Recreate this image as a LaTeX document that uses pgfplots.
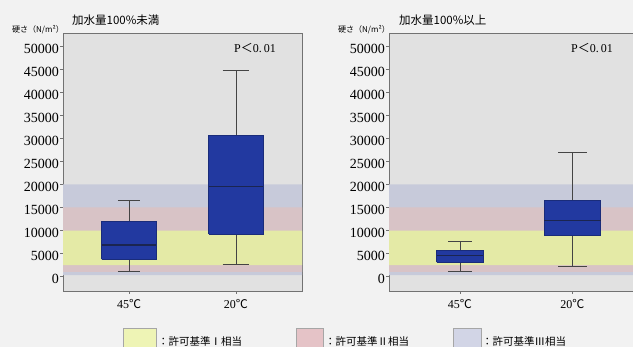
\documentclass[border=0pt]{standalone}
\usepackage{fontspec}
\setmainfont{Liberation Serif}
\newfontfamily\jp{Noto Sans CJK JP}
\usepackage{pgfplots}
\pgfplotsset{compat=1.18}

\definecolor{pagebg}{HTML}{F2F2F2}
\definecolor{plotbg}{HTML}{E1E1E1}
\definecolor{bandI}{HTML}{E4EAA6}
\definecolor{bandII}{HTML}{D8C3C6}
\definecolor{bandIII}{HTML}{C7CADA}
\definecolor{boxfill}{HTML}{2239A0}
\definecolor{boxedge}{HTML}{1A2C7A}
\definecolor{medline}{HTML}{1B2550}
\definecolor{whisk}{HTML}{444444}
\definecolor{axisgray}{HTML}{727272}
\definecolor{legI}{HTML}{EEF4B5}
\definecolor{legII}{HTML}{E5C3C7}
\definecolor{legIII}{HTML}{D2D5E6}

\pgfplotsset{
  hardness/.style={
    scale only axis, height=258pt, anchor=south west,
    ymin=-3150, ymax=52930,
    ytick={0,5000,10000,15000,20000,25000,30000,35000,40000,45000,50000},
    scaled y ticks=false,
    yticklabel style={font=\fontsize{14}{14}\selectfont,
      /pgf/number format/1000 sep={},
      /pgf/number format/assume math mode=true,
      inner xsep=1pt, yshift=-2pt},
    xtick={0,1}, xticklabels={45{\jp ℃},20{\jp ℃}},
    xticklabel style={font=\fontsize{12}{12}\selectfont, yshift=-2pt},
    tick pos=left, tick align=outside, major tick length=3pt,
    tick style={axisgray, line width=0.6pt},
    axis line style={axisgray, line width=0.8pt},
    axis background/.style={fill=plotbg},
  },
  stdband/.style={draw=none, fill=#1, forget plot},
  boxbody/.style={draw=boxedge, fill=boxfill, line width=0.6pt, mark=none},
  whiskline/.style={draw=whisk, line width=0.7pt, mark=none},
  medianline/.style={draw=medline, line width=1.1pt, mark=none},
}

% permitted-standard ranges (N/m^2): III 300-20000, II 1000-15000, I 2500-10000
\newcommand{\standardbands}{%
  \addplot[stdband=bandIII] coordinates {(-1,300) (2,300) (2,20000) (-1,20000) (-1,300)};
  \addplot[stdband=bandII] coordinates {(-1,1000) (2,1000) (2,15000) (-1,15000) (-1,1000)};
  \addplot[stdband=bandI] coordinates {(-1,2500) (2,2500) (2,10000) (-1,10000) (-1,2500)};
}

\begin{document}
\begin{tikzpicture}
\path[use as bounding box, clip] (0,0) rectangle (633pt,-347pt);
\fill[pagebg] (0,0) rectangle (633pt,-347pt);

% water content below 100%
\begin{axis}[hardness, at={(63pt,-291pt)}, width=239pt,
  xmin=-0.617, xmax=1.617]
  \standardbands
  % 45 C: whiskers 1040 / 16630, quartiles 3740 / 11910, median 6850
  \addplot[whiskline] coordinates {(0,1040) (0,16630)};
  \addplot[whiskline] coordinates {(-0.105,1040) (0.105,1040)};
  \addplot[whiskline] coordinates {(-0.105,16630) (0.105,16630)};
  \addplot[boxbody] coordinates {(-0.255,3740) (0.255,3740) (0.255,11910) (-0.255,11910) (-0.255,3740)};
  \addplot[medianline] coordinates {(-0.255,6850) (0.255,6850)};
  % 20 C: whiskers 2720 / 44830, quartiles 9240 / 30600, median 19520
  \addplot[whiskline] coordinates {(1,2720) (1,44830)};
  \addplot[whiskline] coordinates {(0.875,2720) (1.125,2720)};
  \addplot[whiskline] coordinates {(0.875,44830) (1.125,44830)};
  \addplot[boxbody] coordinates {(0.745,9240) (1.255,9240) (1.255,30600) (0.745,30600) (0.745,9240)};
  \addplot[medianline] coordinates {(0.745,19520) (1.255,19520)};
\end{axis}

% water content 100% or more
\begin{axis}[hardness, at={(389pt,-291pt)}, width=251pt,
  xmin=-0.63, xmax=1.6]
  \standardbands
  % 45 C: whiskers 1130 / 7650, quartiles 3150 / 5610, median 4520
  \addplot[whiskline] coordinates {(0,1130) (0,7650)};
  \addplot[whiskline] coordinates {(-0.105,1130) (0.105,1130)};
  \addplot[whiskline] coordinates {(-0.105,7650) (0.105,7650)};
  \addplot[boxbody] coordinates {(-0.2075,3150) (0.2075,3150) (0.2075,5610) (-0.2075,5610) (-0.2075,3150)};
  \addplot[medianline] coordinates {(-0.2075,4520) (0.2075,4520)};
  % 20 C: whiskers 2220 / 27000, quartiles 8870 / 16480, median 12220
  \addplot[whiskline] coordinates {(1,2220) (1,27000)};
  \addplot[whiskline] coordinates {(0.875,2220) (1.125,2220)};
  \addplot[whiskline] coordinates {(0.875,27000) (1.125,27000)};
  \addplot[boxbody] coordinates {(0.75,8870) (1.25,8870) (1.25,16480) (0.75,16480) (0.75,8870)};
  \addplot[medianline] coordinates {(0.75,12220) (1.25,12220)};
\end{axis}

% panel titles and axis captions
\node[anchor=west, inner sep=0pt, font=\jp\fontsize{11.5}{12}\selectfont] at (72pt,-20pt) {加水量100\%未満};
\node[anchor=west, inner sep=0pt, font=\jp\fontsize{11.5}{12}\selectfont] at (399pt,-20pt) {加水量100\%以上};
\node[anchor=west, inner sep=0pt, font=\jp\fontsize{8}{8}\selectfont] at (12pt,-30pt) {硬さ（N/m²）};
\node[anchor=west, inner sep=0pt, font=\jp\fontsize{8}{8}\selectfont] at (338pt,-30pt) {硬さ（N/m²）};
\node[inner sep=0pt, font=\fontsize{12}{12}\selectfont] at (255pt,-48pt) {P{\jp ＜}0.\,01};
\node[inner sep=0pt, font=\fontsize{12}{12}\selectfont] at (592pt,-48pt) {P{\jp ＜}0.\,01};

% legend
\draw[gray!70, line width=0.5pt, fill=legI] (123pt,-328pt) rectangle (156pt,-356pt);
\node[anchor=west, inner sep=0pt, font=\jp\fontsize{10.5}{11}\selectfont] at (158pt,-341pt) {：許可基準Ⅰ相当};
\draw[gray!70, line width=0.5pt, fill=legII] (296pt,-328pt) rectangle (323pt,-356pt);
\node[anchor=west, inner sep=0pt, font=\jp\fontsize{10.5}{11}\selectfont] at (325pt,-341pt) {：許可基準Ⅱ相当};
\draw[gray!70, line width=0.5pt, fill=legIII] (453pt,-328pt) rectangle (481pt,-356pt);
\node[anchor=west, inner sep=0pt, font=\jp\fontsize{10.5}{11}\selectfont] at (482pt,-341pt) {：許可基準Ⅲ相当};
\end{tikzpicture}
\end{document}
